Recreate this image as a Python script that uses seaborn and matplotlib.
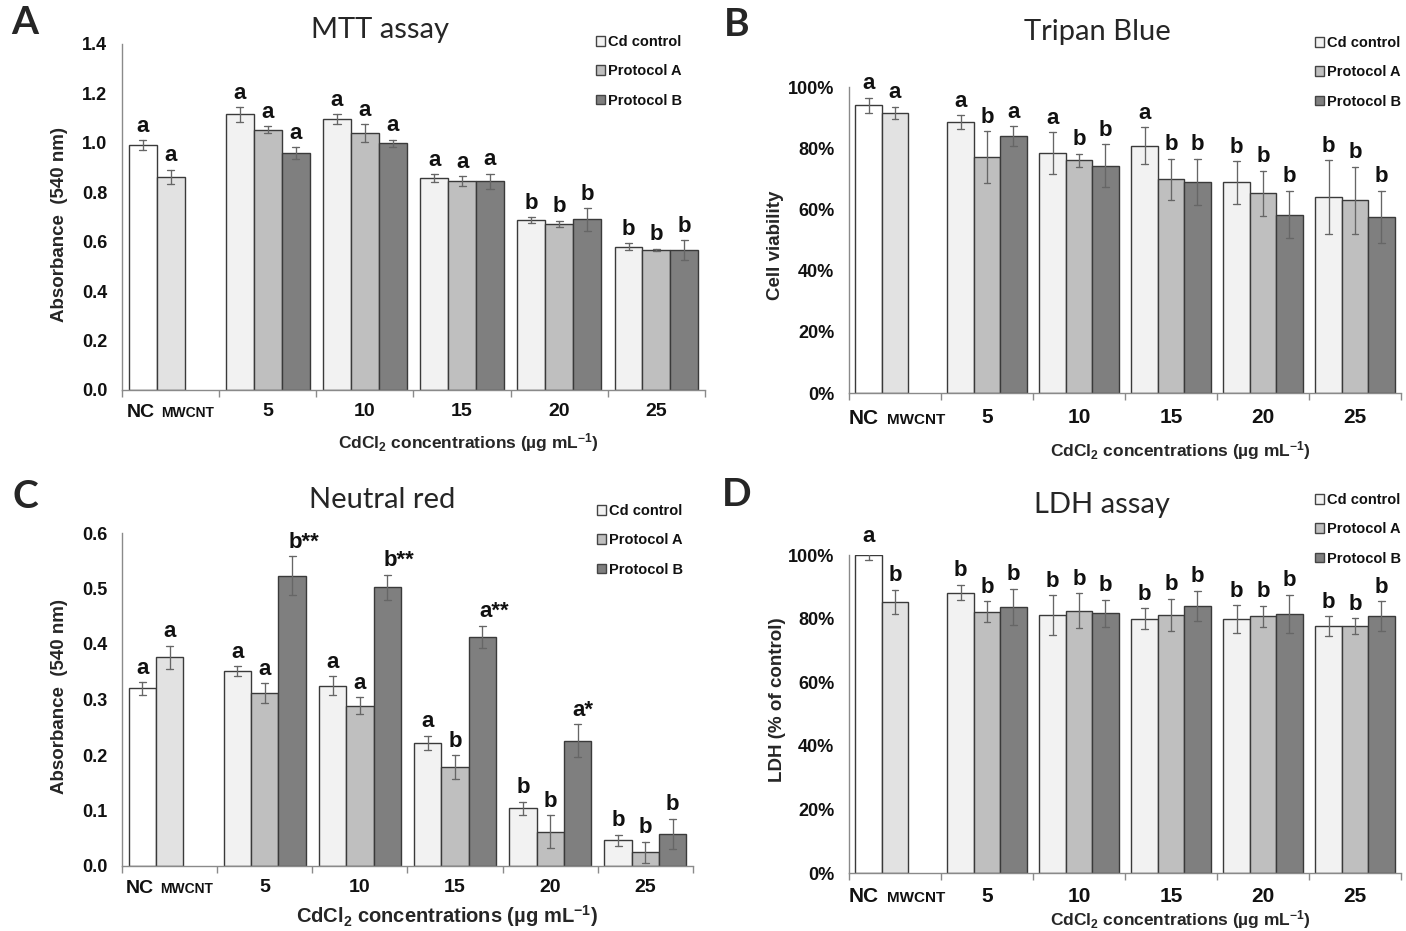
import numpy as np
import pandas as pd
import matplotlib
matplotlib.use("Agg")
import matplotlib.pyplot as plt
import seaborn as sns
from matplotlib.patches import Patch
from matplotlib.ticker import FuncFormatter

# ---------------- data ----------------
CATS = ["NC", "5", "10", "15", "20", "25"]
SERIES = ["Cd control", "Protocol A", "Protocol B"]

# Panel A - MTT assay (absorbance)
A_nc = [0.990, 0.862]
A_nc_err = [0.020, 0.030]
A_nc_let = ["a", "a"]
A_cd = [1.115, 1.095, 0.857, 0.687, 0.580]
A_cd_err = [0.030, 0.020, 0.015, 0.012, 0.013]
A_pa = [1.053, 1.040, 0.845, 0.672, 0.567]
A_pa_err = [0.015, 0.035, 0.020, 0.013, 0.005]
A_pb = [0.958, 0.998, 0.845, 0.690, 0.565]
A_pb_err = [0.025, 0.015, 0.030, 0.045, 0.040]
A_let_cd = ["a", "a", "a", "b", "b"]
A_let_pa = ["a", "a", "a", "b", "b"]
A_let_pb = ["a", "a", "a", "b", "b"]

# Panel B - Tripan Blue (cell viability, fraction)
B_nc = [0.940, 0.915]
B_nc_err = [0.025, 0.020]
B_nc_let = ["a", "a"]
B_cd = [0.885, 0.785, 0.808, 0.688, 0.640]
B_cd_err = [0.022, 0.068, 0.060, 0.070, 0.120]
B_pa = [0.770, 0.760, 0.698, 0.652, 0.630]
B_pa_err = [0.085, 0.022, 0.068, 0.075, 0.110]
B_pb = [0.840, 0.743, 0.690, 0.583, 0.576]
B_pb_err = [0.032, 0.070, 0.075, 0.078, 0.085]
B_let_cd = ["a", "a", "a", "b", "b"]
B_let_pa = ["b", "b", "b", "b", "b"]
B_let_pb = ["a", "b", "b", "b", "b"]

# Panel C - Neutral red (absorbance)
C_nc = [0.320, 0.376]
C_nc_err = [0.011, 0.021]
C_nc_let = ["a", "a"]
C_cd = [0.351, 0.325, 0.222, 0.104, 0.046]
C_cd_err = [0.009, 0.017, 0.013, 0.012, 0.010]
C_pa = [0.311, 0.289, 0.178, 0.062, 0.025]
C_pa_err = [0.018, 0.015, 0.022, 0.029, 0.019]
C_pb = [0.523, 0.502, 0.413, 0.226, 0.058]
C_pb_err = [0.035, 0.023, 0.020, 0.029, 0.027]
C_let_cd = ["a", "a", "a", "b", "b"]
C_let_pa = ["a", "a", "b", "b", "b"]
C_let_pb = ["b**", "b**", "a**", "a*", "b"]

# Panel D - LDH assay (% of control, fraction)
D_nc = [1.000, 0.853]
D_nc_err = [0.015, 0.038]
D_nc_let = ["a", "b"]
D_cd = [0.882, 0.810, 0.800, 0.798, 0.776]
D_cd_err = [0.025, 0.063, 0.033, 0.044, 0.032]
D_pa = [0.822, 0.824, 0.812, 0.808, 0.776]
D_pa_err = [0.032, 0.055, 0.050, 0.033, 0.025]
D_pb = [0.837, 0.817, 0.841, 0.815, 0.808]
D_pb_err = [0.057, 0.043, 0.047, 0.060, 0.047]
D_let_cd = ["b", "b", "b", "b", "b"]
D_let_pa = ["b", "b", "b", "b", "b"]
D_let_pb = ["b", "b", "b", "b", "b"]

# ---------------- style ----------------
sns.set_theme(style="white")
NARROW = ["Liberation Sans Narrow", "Liberation Sans", "DejaVu Sans"]
plt.rcParams["font.family"] = NARROW
plt.rcParams["mathtext.default"] = "regular"

PALETTE = {"Cd control": "#f2f2f2", "Protocol A": "#bfbfbf", "Protocol B": "#7f7f7f"}
NC_COLORS = ["#ffffff", "#e2e2e2"]
EDGE = "#3a3a3a"
SPINE = "#8a8a8a"

W, H = 1406, 931
fig = plt.figure(figsize=(W / 100, H / 100), dpi=100)


def px_axes(left, right, top, bottom):
    return fig.add_axes([left / W, 1 - bottom / H, (right - left) / W, (bottom - top) / H])


def panel_frame(nc, nc_err, series, errs):
    rows = []
    for slot, (m, e) in enumerate(zip(nc, nc_err)):
        for s in (-1, 1):
            rows.append(dict(cat=CATS[0], grp=SERIES[slot], val=m + s * e))
    for name, vals, es in zip(SERIES, series, errs):
        for c, m, e in zip(CATS[1:], vals, es):
            for s in (-1, 1):
                rows.append(dict(cat=c, grp=name, val=m + s * e))
    return pd.DataFrame(rows)


def draw_panel(ax, nc, nc_err, nc_let, series, errs, lets, ylim, yticks, fmt,
               xpad, xfs, nc_off, mw_off):
    df = panel_frame(nc, nc_err, series, errs)
    sns.barplot(data=df, x="cat", y="val", hue="grp", order=CATS, hue_order=SERIES,
                palette=PALETTE, saturation=1, width=0.86, estimator="mean",
                errorbar=lambda v: (v.min(), v.max()), capsize=0.22,
                err_kws={"color": "#666666", "linewidth": 0.95},
                edgecolor=EDGE, linewidth=1.0, legend=False, ax=ax)
    for p in ax.patches:
        cx = p.get_x() + p.get_width() / 2
        ci = int(round(cx))
        si = int(round((cx - ci) / p.get_width())) + 1
        if ci == 0:
            p.set_facecolor(NC_COLORS[si])
            m, e, lab = nc[si], nc_err[si], nc_let[si]
        else:
            m, e, lab = series[si][ci - 1], errs[si][ci - 1], lets[si][ci - 1]
        top = m + e
        nstar = lab.count("*")
        ax.annotate(lab, (cx, top), xytext=(4.2 * nstar, 2.5), textcoords="offset points",
                    ha="center", va="bottom", fontsize=16, fontweight="bold",
                    color="#111111", annotation_clip=False)
    ax.set_ylim(*ylim)
    ax.set_xlim(-0.5, 5.5)
    ax.set_yticks(yticks)
    ax.yaxis.set_major_formatter(FuncFormatter(fmt))
    ax.set_xticks(range(len(CATS)))
    ax.set_xticklabels([""] + CATS[1:])
    ax.set_xticks(np.arange(-0.5, 6.0, 1.0), minor=True)
    ax.tick_params(axis="x", which="major", length=0, pad=xpad, labelsize=xfs,
                   labelcolor="#111111")
    ax.tick_params(axis="x", which="minor", length=5, width=1, color=SPINE, direction="out",
                   bottom=True)
    ax.tick_params(axis="y", length=4.5, width=1, color=SPINE, direction="out", pad=6,
                   labelsize=13, labelcolor="#111111")
    for lab in ax.get_xticklabels() + ax.get_yticklabels():
        lab.set_fontweight("bold")
    ax.set_xlabel("")
    ax.set_ylabel("")
    for s in ("top", "right"):
        ax.spines[s].set_visible(False)
    for s in ("left", "bottom"):
        ax.spines[s].set_color(SPINE)
        ax.spines[s].set_linewidth(1.0)
    # NC / MWCNT labels under the first category, sharing one baseline
    base = -(xpad + 0.74 * xfs)
    ax.annotate("NC", (nc_off, 0), xycoords=("data", "axes fraction"),
                xytext=(0, base), textcoords="offset points", ha="center", va="baseline",
                fontsize=xfs, fontweight="bold", color="#111111")
    ax.annotate("MWCNT", (mw_off, 0), xycoords=("data", "axes fraction"),
                xytext=(0, base), textcoords="offset points", ha="center", va="baseline",
                fontsize=xfs - 4, fontweight="bold", color="#111111")
    ax.set_facecolor("white")


def add_legend(ax, x, y):
    handles = [Patch(facecolor=PALETTE[s], edgecolor="#444444", linewidth=1.0, label=s)
               for s in SERIES]
    leg = ax.legend(handles=handles, loc="upper left", bbox_to_anchor=(x / W, 1 - y / H),
                    bbox_transform=fig.transFigure, frameon=False, fontsize=10.5,
                    handlelength=0.65, handleheight=0.65, handletextpad=0.2,
                    labelspacing=1.05, borderpad=0, borderaxespad=0)
    for t in leg.get_texts():
        t.set_fontweight("bold")
        t.set_color("#111111")


def ftext(x, y, s, **kw):
    fig.text(x / W, 1 - y / H, s, **kw)


fmt_abs = lambda v, pos: f"{v:.1f}"
fmt_pct = lambda v, pos: f"{v * 100:.0f}%"
XLAB = r"CdCl$_2$ concentrations (µg mL$^{-1}$)"
TITLE_FONT = ["Lato", "DejaVu Sans"]
LETTER_FONT = ["Lato", "DejaVu Sans"]

# Panel A
axA = px_axes(122, 705, 44, 390)
draw_panel(axA, A_nc, A_nc_err, A_nc_let, [A_cd, A_pa, A_pb], [A_cd_err, A_pa_err, A_pb_err],
           [A_let_cd, A_let_pa, A_let_pb], (0, 1.4), np.arange(0, 1.41, 0.2), fmt_abs, 9, 14,
           -0.31, 0.17)
add_legend(axA, 596, 35)
ftext(380, 30, "MTT assay", ha="center", va="center", fontsize=21, family=TITLE_FONT)
ftext(25, 22, "A", ha="center", va="center", fontsize=28, fontweight="bold", family=LETTER_FONT)
ftext(60, 224, "Absorbance  (540 nm)", ha="center", va="center", rotation=90, fontsize=13.5,
      fontweight="bold")
ftext(468, 443, XLAB, ha="center", va="center", fontsize=12.5, fontweight="bold")

# Panel B
axB = px_axes(849, 1401, 87, 393)
draw_panel(axB, B_nc, B_nc_err, B_nc_let, [B_cd, B_pa, B_pb], [B_cd_err, B_pa_err, B_pb_err],
           [B_let_cd, B_let_pa, B_let_pb], (0, 1.0), np.arange(0, 1.01, 0.2), fmt_pct, 11, 15,
           -0.34, 0.23)
add_legend(axB, 1315, 36)
ftext(1097, 32, "Tripan Blue", ha="center", va="center", fontsize=21, family=TITLE_FONT)
ftext(737, 25, "B", ha="center", va="center", fontsize=28, fontweight="bold", family=LETTER_FONT)
ftext(775, 245, "Cell viability", ha="center", va="center", rotation=90, fontsize=13.5,
      fontweight="bold")
ftext(1180, 451, XLAB, ha="center", va="center", fontsize=12.5, fontweight="bold")

# Panel C
axC = px_axes(122, 693, 533, 866)
draw_panel(axC, C_nc, C_nc_err, C_nc_let, [C_cd, C_pa, C_pb], [C_cd_err, C_pa_err, C_pb_err],
           [C_let_cd, C_let_pa, C_let_pb], (0, 0.6), np.arange(0, 0.61, 0.1), fmt_abs, 9, 14,
           -0.31, 0.18)
add_legend(axC, 597, 504)
ftext(382, 500, "Neutral red", ha="center", va="center", fontsize=21, family=TITLE_FONT)
ftext(25, 497, "C", ha="center", va="center", fontsize=28, fontweight="bold", family=LETTER_FONT)
ftext(60, 697, "Absorbance  (540 nm)", ha="center", va="center", rotation=90, fontsize=13.5,
      fontweight="bold")
ftext(447, 916, XLAB, ha="center", va="center", fontsize=14.5, fontweight="bold")

# Panel D
axD = px_axes(849, 1401, 555, 873)
draw_panel(axD, D_nc, D_nc_err, D_nc_let, [D_cd, D_pa, D_pb], [D_cd_err, D_pa_err, D_pb_err],
           [D_let_cd, D_let_pa, D_let_pb], (0, 1.0), np.arange(0, 1.01, 0.2), fmt_pct, 10, 15,
           -0.34, 0.23)
add_legend(axD, 1315, 493)
ftext(1102, 505, "LDH assay", ha="center", va="center", fontsize=21, family=TITLE_FONT)
ftext(737, 495, "D", ha="center", va="center", fontsize=28, fontweight="bold", family=LETTER_FONT)
ftext(778, 700, "LDH (% of control)", ha="center", va="center", rotation=90, fontsize=13.5,
      fontweight="bold")
ftext(1180, 920, XLAB, ha="center", va="center", fontsize=12.5, fontweight="bold")

fig.savefig("out.png", dpi=100, facecolor="white")
